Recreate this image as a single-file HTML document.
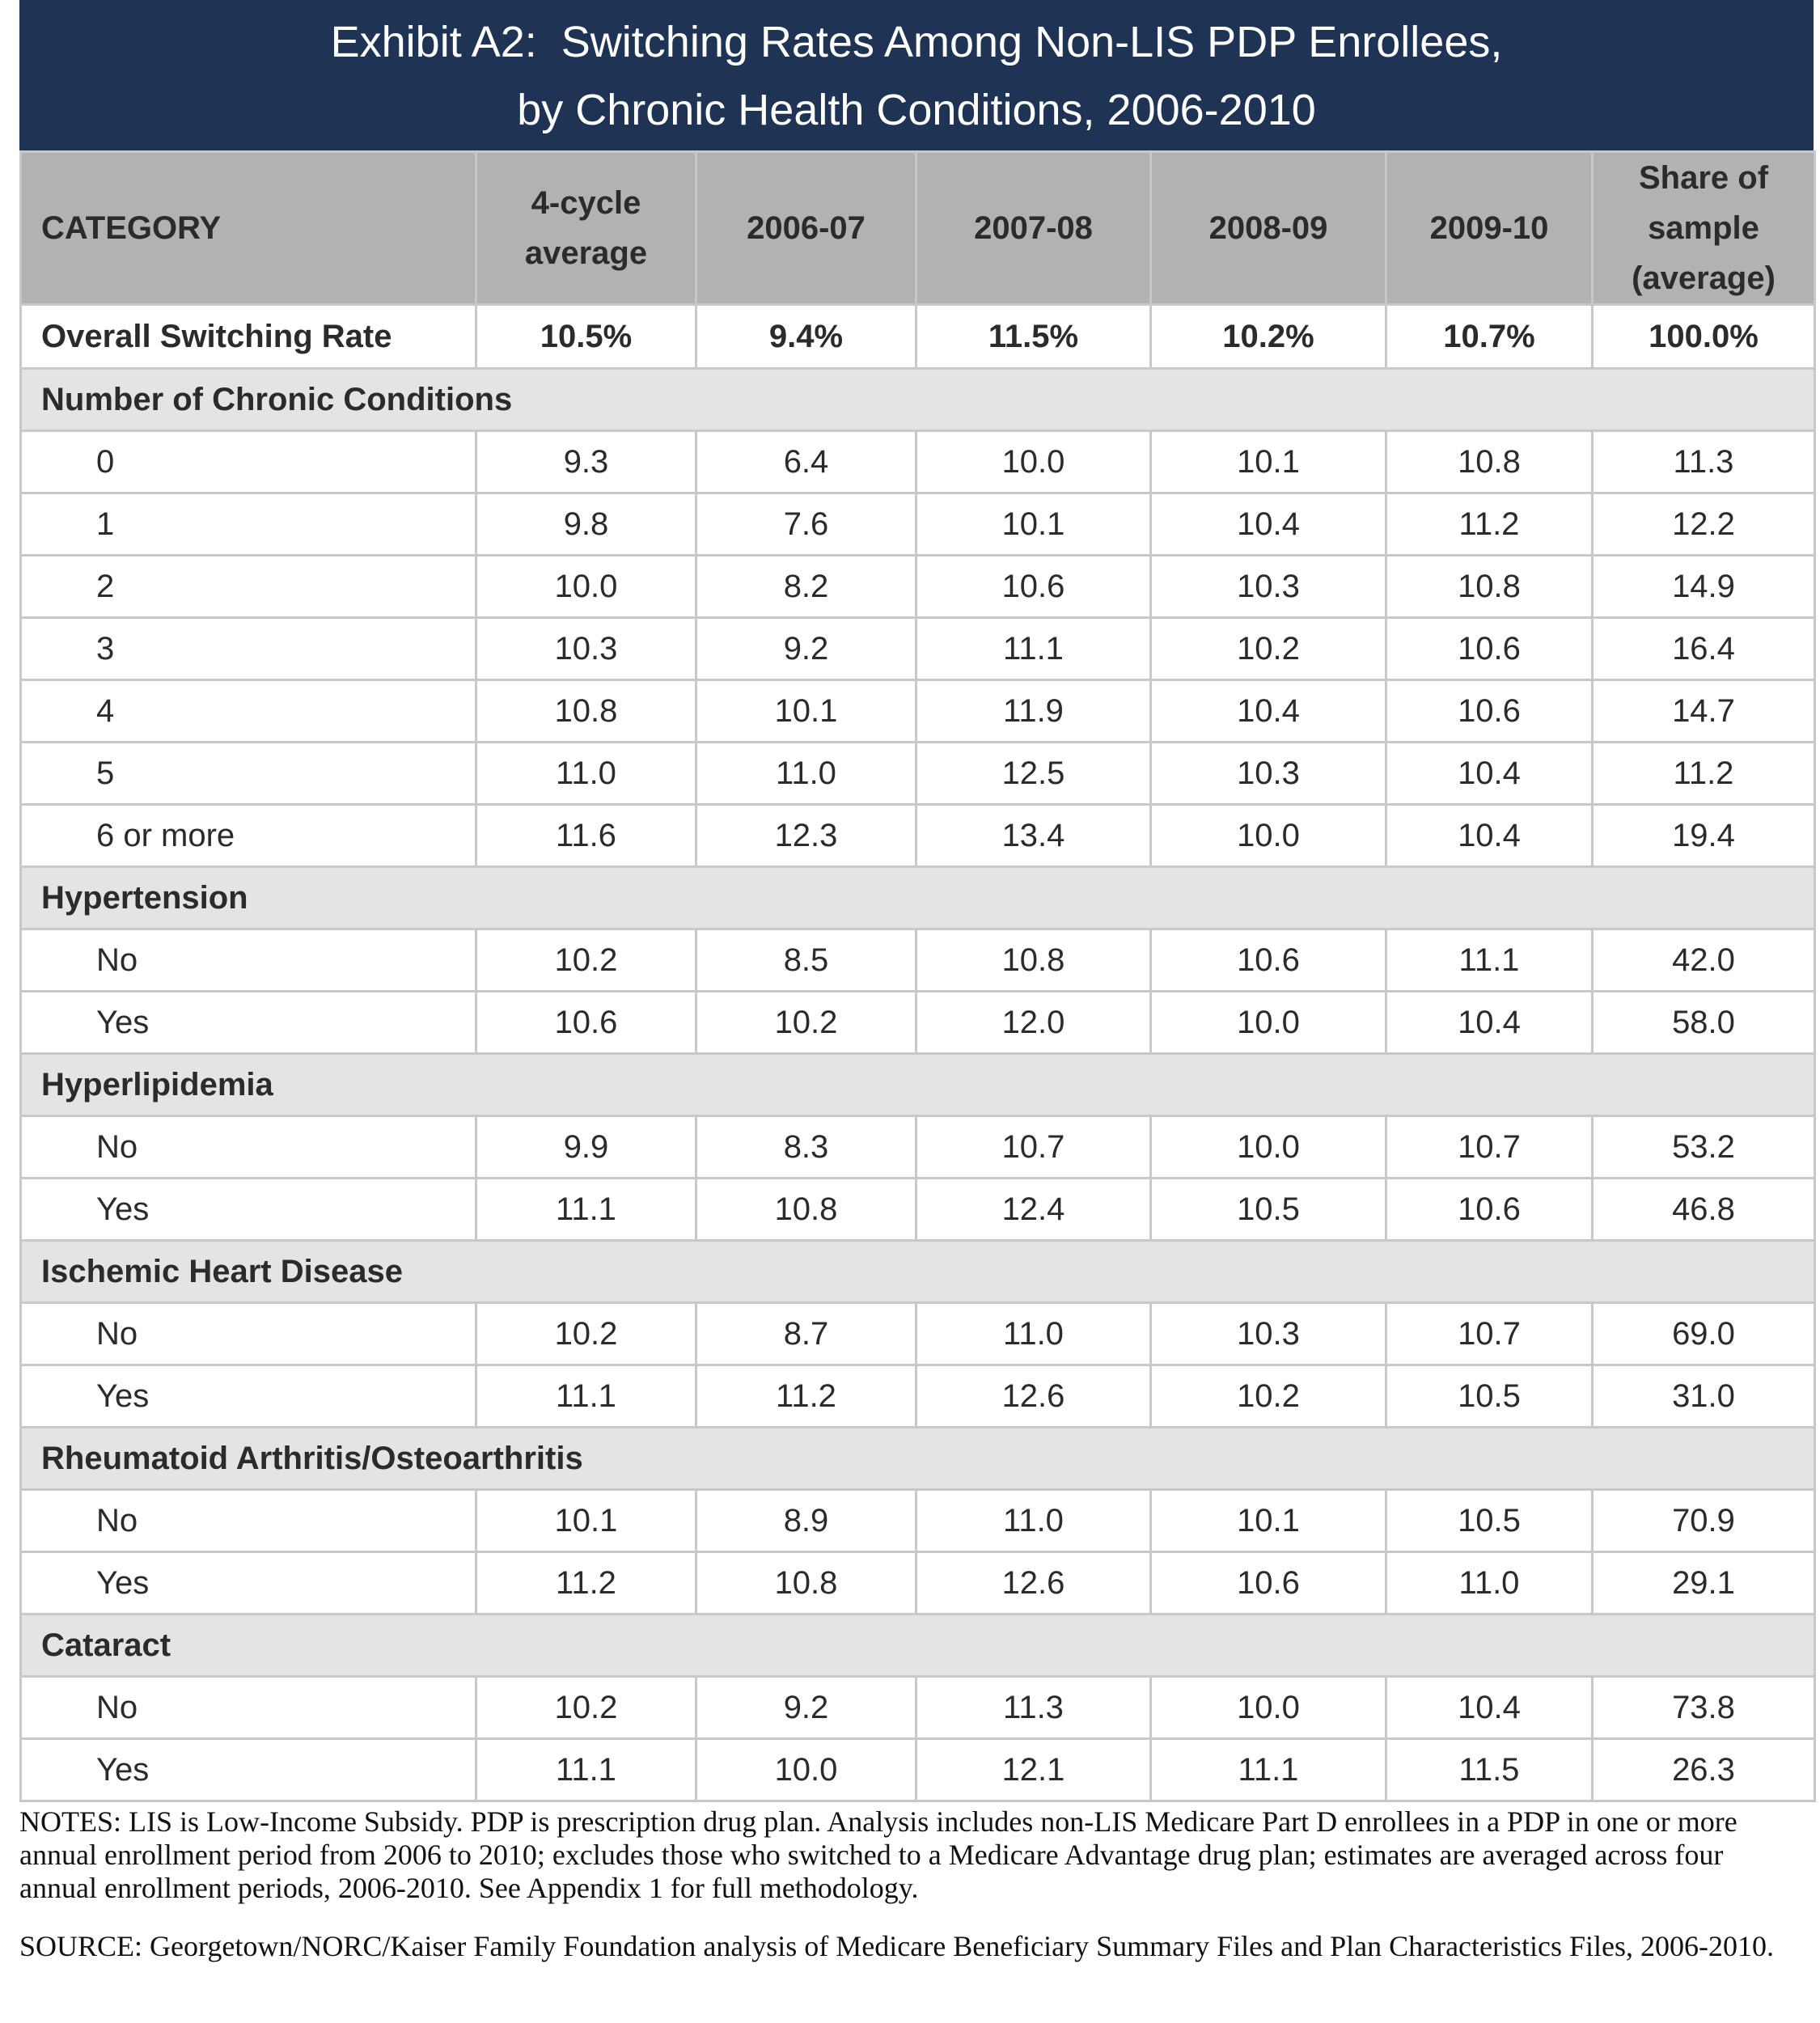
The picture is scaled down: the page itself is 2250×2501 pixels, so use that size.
<!DOCTYPE html>
<html><head><meta charset="utf-8"><style>
body{margin:0;width:2250px;height:2501px;background:#fff;position:relative;overflow:hidden;font-family:"Liberation Sans",sans-serif;color:#2b2b2b}
#title{position:absolute;left:24px;top:0;width:2218px;height:186px;background:#1f3354;color:#fff;text-align:center;font-size:54px;line-height:84px;padding-top:10px;box-sizing:border-box}
table{position:absolute;left:24px;top:186px;width:2218px;border-collapse:collapse;table-layout:fixed}
td{border:3px solid #c8c8c8;font-size:40px;text-align:center;padding:0;height:74px}
td.c{text-align:left;padding-left:24px}
td.i{text-align:left;padding-left:92px}
tr.h td{background:#b2b2b2;font-weight:bold;height:182px;line-height:62px}
tr.o td{font-weight:bold;height:76px}
tr.s td{background:#e4e4e4;font-weight:bold;text-align:left;padding-left:24px}
.n{position:absolute;left:24px;width:2201px;font-family:"Liberation Serif",serif;font-size:36px;line-height:41px;color:#111}
</style></head><body>
<div id="title">Exhibit A2:&nbsp; Switching Rates Among Non-LIS PDP Enrollees,<br>by Chronic Health Conditions, 2006-2010</div>
<table>
<colgroup><col style="width:563px"><col style="width:272px"><col style="width:272px"><col style="width:290px"><col style="width:291px"><col style="width:255px"><col style="width:275px"></colgroup>
<tbody id="tb"></tbody></table>
<div class="n" style="top:2232px">NOTES: LIS is Low-Income Subsidy. PDP is prescription drug plan. Analysis includes non-LIS Medicare Part D enrollees in a PDP in one or more annual enrollment period from 2006 to 2010; excludes those who switched to a Medicare Advantage drug plan; estimates are averaged across four annual enrollment periods, 2006-2010. See Appendix 1 for full methodology.</div>
<div class="n" style="top:2386px">SOURCE: Georgetown/NORC/Kaiser Family Foundation analysis of Medicare Beneficiary Summary Files and Plan Characteristics Files, 2006-2010.</div>
<script>
const headers=["CATEGORY","4-cycle<br>average","2006-07","2007-08","2008-09","2009-10","Share of<br>sample<br>(average)"];
const overall=["Overall Switching Rate","10.5%","9.4%","11.5%","10.2%","10.7%","100.0%"];
const rows=[
["S","Number of Chronic Conditions"],
["0","9.3","6.4","10.0","10.1","10.8","11.3"],
["1","9.8","7.6","10.1","10.4","11.2","12.2"],
["2","10.0","8.2","10.6","10.3","10.8","14.9"],
["3","10.3","9.2","11.1","10.2","10.6","16.4"],
["4","10.8","10.1","11.9","10.4","10.6","14.7"],
["5","11.0","11.0","12.5","10.3","10.4","11.2"],
["6 or more","11.6","12.3","13.4","10.0","10.4","19.4"],
["S","Hypertension"],
["No","10.2","8.5","10.8","10.6","11.1","42.0"],
["Yes","10.6","10.2","12.0","10.0","10.4","58.0"],
["S","Hyperlipidemia"],
["No","9.9","8.3","10.7","10.0","10.7","53.2"],
["Yes","11.1","10.8","12.4","10.5","10.6","46.8"],
["S","Ischemic Heart Disease"],
["No","10.2","8.7","11.0","10.3","10.7","69.0"],
["Yes","11.1","11.2","12.6","10.2","10.5","31.0"],
["S","Rheumatoid Arthritis/Osteoarthritis"],
["No","10.1","8.9","11.0","10.1","10.5","70.9"],
["Yes","11.2","10.8","12.6","10.6","11.0","29.1"],
["S","Cataract"],
["No","10.2","9.2","11.3","10.0","10.4","73.8"],
["Yes","11.1","10.0","12.1","11.1","11.5","26.3"]];
const tb=document.getElementById('tb');
function mk(cls,cells,first){const tr=document.createElement('tr');tr.className=cls;


cells.forEach((c,i)=>{const td=document.createElement('td');td.innerHTML=c;if(i===0)td.className=first;


tr.appendChild(td);});tb.appendChild(tr);}
mk('h',headers,'c');mk('o',overall,'c');
rows.forEach(r=>{if(r[0]==='S'){const tr=document.createElement('tr');tr.className='s';


const td=document.createElement('td');td.colSpan=7;td.textContent=r[1];


tr.appendChild(td);tb.appendChild(tr);}else mk('',r,'i');});
</script>
</body></html>
